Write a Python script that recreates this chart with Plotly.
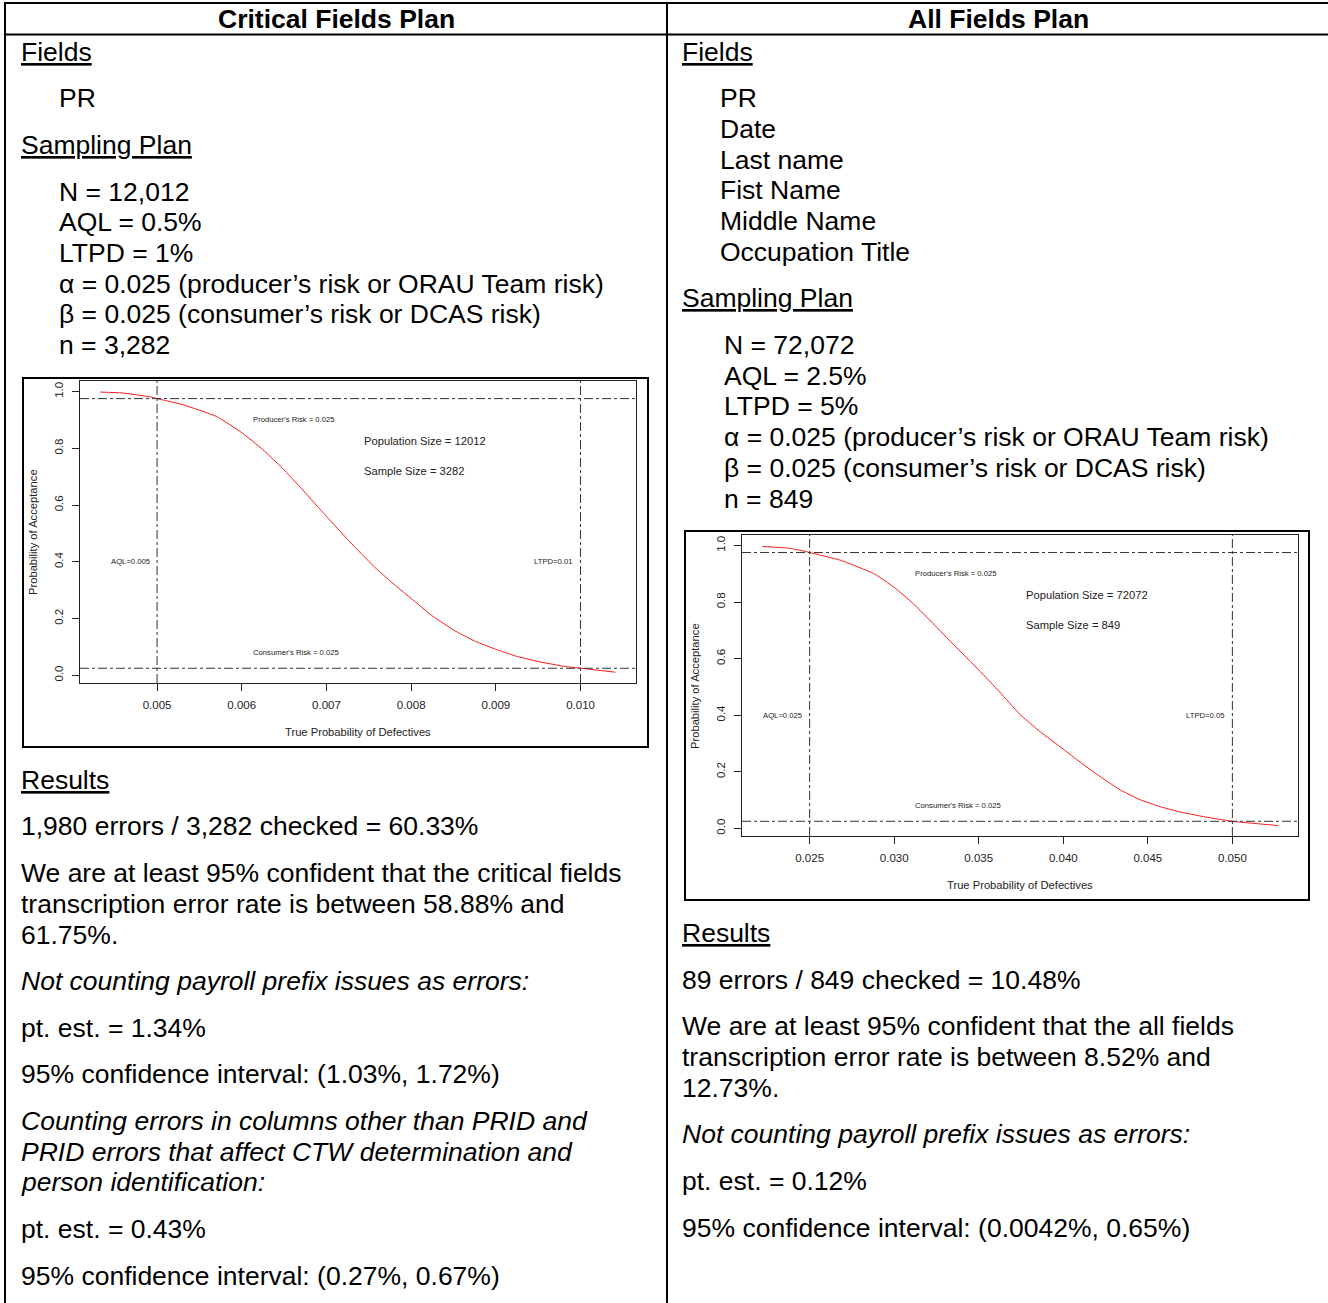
import plotly.graph_objects as go

W, H = 1328, 1303
FONT = "Liberation Sans, Arial, sans-serif"

# ---------------- data ----------------
# Critical Fields Plan OC curve
cf_x = [0.004327, 0.004588, 0.004916, 0.005, 0.005309, 0.005702, 0.006, 0.00625, 0.006482,
        0.006721, 0.007, 0.007267, 0.00758, 0.007816, 0.008, 0.008252, 0.008527, 0.008763,
        0.008999, 0.009234, 0.009509, 0.009823, 0.010, 0.010412]
cf_y = [0.998, 0.995, 0.981, 0.975, 0.953, 0.912, 0.855, 0.795, 0.729,
        0.653, 0.560, 0.473, 0.378, 0.316, 0.271, 0.209, 0.155, 0.119,
        0.092, 0.068, 0.048, 0.031, 0.025, 0.011]
cf_aql, cf_ltpd = 0.005, 0.01
cf_pop, cf_sample = 12012, 3282
cf_xticks = [0.005, 0.006, 0.007, 0.008, 0.009, 0.010]
cf_xticklabels = ["0.005", "0.006", "0.007", "0.008", "0.009", "0.010"]

# All Fields Plan OC curve
af_x = [0.0222, 0.02374, 0.02445, 0.025, 0.02681, 0.02878, 0.030, 0.03114, 0.03232,
        0.0335, 0.035, 0.03624, 0.03742, 0.0386, 0.040, 0.041, 0.04218, 0.04336,
        0.04455, 0.04573, 0.04691, 0.04829, 0.050, 0.05272]
af_y = [0.9965, 0.9906, 0.983, 0.975, 0.948, 0.901, 0.852, 0.7935, 0.723,
        0.650, 0.560, 0.482, 0.404, 0.343, 0.280, 0.234, 0.183, 0.136,
        0.101, 0.0767, 0.058, 0.0415, 0.025, 0.0099]
af_aql, af_ltpd = 0.025, 0.05
af_pop, af_sample = 72072, 849
af_xticks = [0.025, 0.030, 0.035, 0.040, 0.045, 0.050]
af_xticklabels = ["0.025", "0.030", "0.035", "0.040", "0.045", "0.050"]

alpha, beta = 0.025, 0.025
yticks = [0.0, 0.2, 0.4, 0.6, 0.8, 1.0]
yticklabels = ["0.0", "0.2", "0.4", "0.6", "0.8", "1.0"]

# text content of the table
headers = ["Critical Fields Plan", "All Fields Plan"]
left_text = [
    "<u>Fields</u>", "PR", "<u>Sampling Plan</u>",
    "N = 12,012", "AQL = 0.5%", "LTPD = 1%",
    "α = 0.025 (producer’s risk or ORAU Team risk)",
    "β = 0.025 (consumer’s risk or DCAS risk)",
    "n = 3,282",
    "<u>Results</u>",
    "1,980 errors / 3,282 checked = 60.33%",
    "We are at least 95% confident that the critical fields",
    "transcription error rate is between 58.88% and",
    "61.75%.",
    "<i>Not counting payroll prefix issues as errors:</i>",
    "pt. est. = 1.34%",
    "95% confidence interval: (1.03%, 1.72%)",
    "<i>Counting errors in columns other than PRID and</i>",
    "<i>PRID errors that affect CTW determination and</i>",
    "<i>person identification:</i>",
    "pt. est. = 0.43%",
    "95% confidence interval: (0.27%, 0.67%)",
]
right_text = [
    "<u>Fields</u>", "PR", "Date", "Last name", "Fist Name", "Middle Name", "Occupation Title",
    "<u>Sampling Plan</u>",
    "N = 72,072", "AQL = 2.5%", "LTPD = 5%",
    "α = 0.025 (producer’s risk or ORAU Team risk)",
    "β = 0.025 (consumer’s risk or DCAS risk)",
    "n = 849",
    "<u>Results</u>",
    "89 errors / 849 checked = 10.48%",
    "We are at least 95% confident that the all fields",
    "transcription error rate is between 8.52% and",
    "12.73%.",
    "<i>Not counting payroll prefix issues as errors:</i>",
    "pt. est. = 0.12%",
    "95% confidence interval: (0.0042%, 0.65%)",
]

# ---------------- layout positions (pixels) ----------------
left_x = [22, 60, 22, 60, 60, 60, 60, 60, 60, 22, 22, 22, 22, 22, 22, 22, 22, 22, 22, 22, 22, 22]
left_y = [52, 98, 145, 192, 222, 253, 284, 314, 345, 780, 826, 873, 904, 935, 981, 1028, 1074,
          1121, 1152, 1182, 1229, 1276]
right_x = [683, 721, 721, 721, 721, 721, 721, 683, 725, 725, 725, 725, 725, 725,
           683, 683, 683, 683, 683, 683, 683, 683]
right_y = [52, 98, 129, 160, 190, 221, 252, 298, 345, 376, 406, 437, 468, 499,
           933, 980, 1026, 1057, 1088, 1134, 1181, 1228]
TEXT_PAD = 3  # annotation inner padding


def px(x):
    return x / W


def py(y):
    return 1 - y / H


fig = go.Figure()

curve_line = dict(color="#ff1a1a", width=1, shape="spline", smoothing=0.4)
fig.add_trace(go.Scatter(x=cf_x, y=cf_y, mode="lines", line=curve_line,
                         xaxis="x", yaxis="y", showlegend=False, hoverinfo="skip"))
fig.add_trace(go.Scatter(x=af_x, y=af_y, mode="lines", line=curve_line,
                         xaxis="x2", yaxis="y2", showlegend=False, hoverinfo="skip"))

shapes = []
annotations = []

# table borders
tbl = dict(type="line", xref="paper", yref="paper", line=dict(color="black", width=2))
shapes.append(dict(tbl, x0=px(4), x1=1, y0=py(3), y1=py(3)))
shapes.append(dict(tbl, x0=px(4), x1=1, y0=py(34.5), y1=py(34.5)))
shapes.append(dict(tbl, x0=px(5), x1=px(5), y0=py(2), y1=0))
shapes.append(dict(tbl, x0=px(667), x1=px(667), y0=py(2), y1=0))

# chart frames
shapes.append(dict(type="rect", xref="paper", yref="paper", x0=px(23), x1=px(648), y0=py(747), y1=py(378),
                   line=dict(color="black", width=2)))
shapes.append(dict(type="rect", xref="paper", yref="paper", x0=px(685), x1=px(1309), y0=py(900), y1=py(531),
                   line=dict(color="black", width=2)))

# reference lines in each chart
ref = dict(color="#333333", width=1, dash="dashdot")
for xa, ya, aql, ltpd in [("x", "y", cf_aql, cf_ltpd), ("x2", "y2", af_aql, af_ltpd)]:
    for xv in (aql, ltpd):
        shapes.append(dict(type="line", xref=xa, yref=ya + " domain", x0=xv, x1=xv, y0=0, y1=1, line=ref))
    for yv in (1 - alpha, beta):
        shapes.append(dict(type="line", xref=xa + " domain", yref=ya, x0=0, x1=1, y0=yv, y1=yv, line=ref))

# header
for txt, cx in zip(headers, [336, 998]):
    annotations.append(dict(text="<b>" + txt + "</b>", x=px(cx), y=py(19), xref="paper", yref="paper",
                            xanchor="center", yanchor="middle", showarrow=False,
                            font=dict(family=FONT, size=26.5, color="black")))

for txts, xs, ys in [(left_text, left_x, left_y), (right_text, right_x, right_y)]:
    for t, x, y in zip(txts, xs, ys):
        annotations.append(dict(text=t, x=px(x - TEXT_PAD), y=py(y), xref="paper", yref="paper",
                                xanchor="left", yanchor="middle", showarrow=False,
                                font=dict(family=FONT, size=26.5, color="black")))

# chart annotations (data coordinates)
small = dict(family=FONT, size=7.7, color="#222222")
mid = dict(family=FONT, size=11.2, color="#222222")
for xa, ya, aql, ltpd, pop, ss, xr in [
    ("x", "y", cf_aql, cf_ltpd, cf_pop, cf_sample, (0.00409, 0.010655)),
    ("x2", "y2", af_aql, af_ltpd, af_pop, af_sample, (0.02100, 0.05388)),
]:
    span = xr[1] - xr[0]
    annotations += [
        dict(text="Producer's Risk = %s" % alpha, x=xr[0] + 0.385 * span, y=0.9, xref=xa, yref=ya,
             showarrow=False, font=small, xanchor="center", yanchor="middle"),
        dict(text="Consumer's Risk = %s" % beta, x=xr[0] + 0.388 * span, y=0.08, xref=xa, yref=ya,
             showarrow=False, font=small, xanchor="center", yanchor="middle"),
        dict(text="AQL=%s" % aql, x=aql - 0.048 * span, y=0.4, xref=xa, yref=ya,
             showarrow=False, font=small, xanchor="center", yanchor="middle"),
        dict(text="LTPD=%s" % ltpd, x=ltpd - 0.048 * span, y=0.4, xref=xa, yref=ya,
             showarrow=False, font=small, xanchor="center", yanchor="middle"),
        dict(text="Population Size = %d" % pop, x=xr[0] + 0.508 * span, y=0.825, xref=xa, yref=ya,
             showarrow=False, font=mid, xanchor="left", yanchor="middle"),
        dict(text="Sample Size = %d" % ss, x=xr[0] + 0.508 * span, y=0.72, xref=xa, yref=ya,
             showarrow=False, font=mid, xanchor="left", yanchor="middle"),
    ]

# axis titles
for cx, cy in [(33, 532), (695, 686)]:
    annotations.append(dict(text="Probability of Acceptance", x=px(cx), y=py(cy), xref="paper", yref="paper",
                            textangle=-90, showarrow=False, xanchor="center", yanchor="middle",
                            font=dict(family=FONT, size=11.2, color="#222222")))
for cx, cy in [(358, 732), (1020, 885)]:
    annotations.append(dict(text="True Probability of Defectives", x=px(cx), y=py(cy), xref="paper", yref="paper",
                            showarrow=False, xanchor="center", yanchor="middle",
                            font=dict(family=FONT, size=11.2, color="#222222")))

axis_common = dict(showgrid=False, zeroline=False, showline=True, linecolor="#222222", linewidth=1,
                   mirror=True, ticks="outside", ticklen=7, tickcolor="#222222",
                   tickfont=dict(family=FONT, size=11.5, color="#222222"))

fig.update_layout(
    width=W, height=H, margin=dict(l=0, r=0, t=0, b=0),
    paper_bgcolor="white", plot_bgcolor="white",
    xaxis=dict(axis_common, domain=[px(80), px(636)], range=[0.00409, 0.010655], anchor="y",
               tickvals=cf_xticks, ticktext=cf_xticklabels, ticklabelstandoff=4),
    yaxis=dict(axis_common, domain=[py(683), py(381)], range=[-0.027, 1.037], anchor="x",
               tickvals=yticks, ticktext=yticklabels, tickangle=-90, ticklabelstandoff=4),
    xaxis2=dict(axis_common, domain=[px(742), px(1298)], range=[0.02100, 0.05388], anchor="y2",
                tickvals=af_xticks, ticktext=af_xticklabels, ticklabelstandoff=4),
    yaxis2=dict(axis_common, domain=[py(836), py(535)], range=[-0.027, 1.037], anchor="x2",
                tickvals=yticks, ticktext=yticklabels, tickangle=-90, ticklabelstandoff=4),
    shapes=shapes, annotations=annotations,
)

fig.write_html("out.html", config={"displayModeBar": False, "staticPlot": True},
               post_script="document.body.style.margin='0';document.body.style.overflow='hidden';")
